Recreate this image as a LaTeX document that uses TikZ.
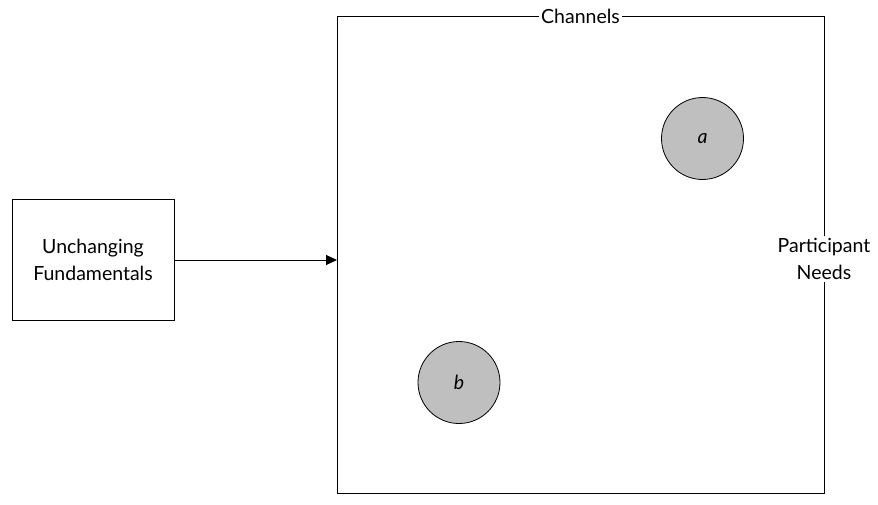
\documentclass[tikz,border=0pt]{standalone}
\usepackage{fontspec}
\setmainfont{Lato}
\usetikzlibrary{arrows.meta}
\begin{document}
\begin{tikzpicture}[x=1pt,y=-1pt,
  every node/.style={font=\fontsize{19.5}{27}\selectfont},
  line/.style={draw=black,line width=0.8pt},
  boxnode/.style={line,rectangle,minimum width=162pt,minimum height=121pt,align=center,inner sep=0pt},
  circ/.style={line,circle,fill=black!25,minimum size=82pt,inner sep=0pt},
  lbl/.style={fill=white,align=center,inner sep=2pt}]
\useasboundingbox (0,0) rectangle (878,504);
\node[boxnode] (uf) at (93,260) {Unchanging\\Fundamentals};
\draw[line] (337,16) rectangle (824,493);
\coordinate (ch) at (337,260);
\node[lbl] (chan) at (580.5,16) {Channels};
\node[lbl] (pn) at (824,259) {Participant\\Needs};
\node[circ] (a) at (702.5,138.5) {\itshape a};
\node[circ] (b) at (459,382.5) {\itshape b};
\draw[line,-{Triangle[length=11pt,width=10pt]}] (uf.east) -- (ch);
\end{tikzpicture}
\end{document}
